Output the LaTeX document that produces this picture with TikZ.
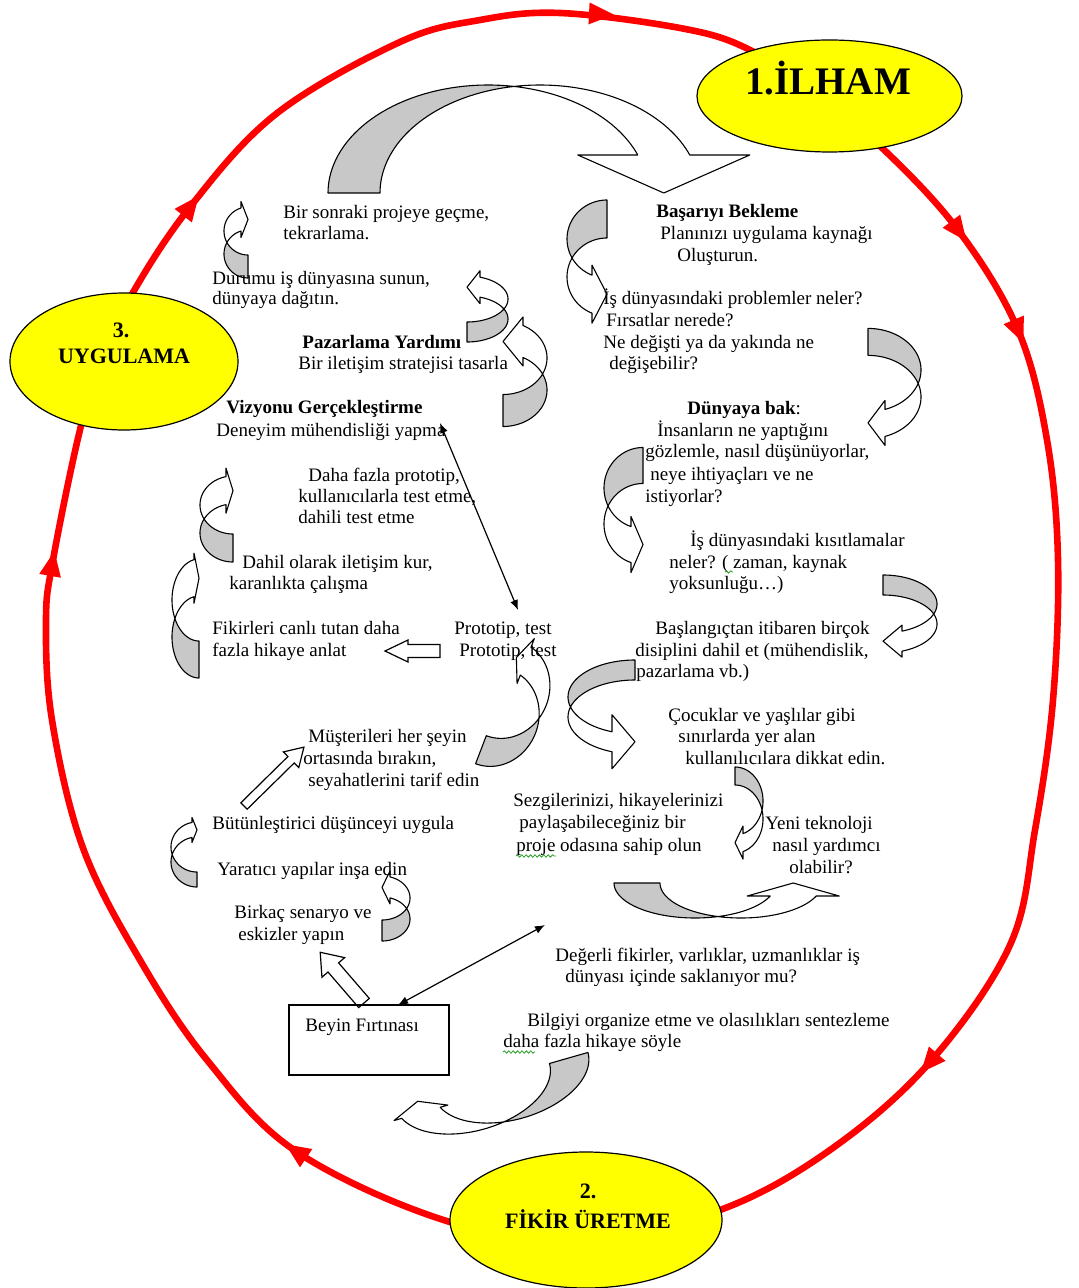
\documentclass[tikz,border=0pt]{standalone}
\usepackage{fontspec}
\setmainfont{Liberation Serif}
\usetikzlibrary{shapes.geometric, arrows.meta, decorations.pathmorphing}
\definecolor{ringred}{RGB}{255,0,0}
\definecolor{stageyellow}{RGB}{255,255,0}
\definecolor{ribbongray}{RGB}{200,200,200}
\definecolor{squiggle}{RGB}{40,160,40}

% curved ribbon arrow: #1 placement, #2 x radius, #3 y radius,
% #4 ribbon thickness, #5 height of the head base, #6 head overhang
\newcommand{\ribbonarrow}[6]{%
  \begin{scope}[#1]
    \pgfmathsetmacro{\rbrx}{#2}%
    \pgfmathsetmacro{\rbry}{#3}%
    \pgfmathsetmacro{\rbth}{#4}%
    \pgfmathsetmacro{\rbyb}{#5}%
    \pgfmathsetmacro{\rbhd}{#6}%
    \pgfmathsetmacro{\rbphi}{acos(\rbth/(2*\rbrx))}%
    \pgfmathsetmacro{\rbphb}{180-\rbphi}%
    \pgfmathsetmacro{\rbpsi}{asin(\rbyb/\rbry)}%
    \pgfmathsetmacro{\rbbx}{\rbrx*cos(\rbpsi)}%
    \filldraw[back] plot[variable=\t, domain=180:\rbphi, samples=40] ({\rbrx*cos(\t)},{\rbry*sin(\t)})
      -- plot[variable=\t, domain=\rbphb:180, samples=40] ({\rbth+\rbrx*cos(\t)},{\rbry*sin(\t)}) -- cycle;
    \filldraw[front] plot[variable=\t, domain=\rbphb:\rbpsi, samples=40] ({\rbth+\rbrx*cos(\t)},{\rbry*sin(\t)})
      -- ({\rbth+\rbbx+\rbhd},{\rbyb}) -- ({\rbbx+\rbth/2},0) -- ({\rbbx-\rbhd},{\rbyb})
      -- plot[variable=\t, domain=\rbpsi:\rbphi, samples=40] ({\rbrx*cos(\t)},{\rbry*sin(\t)}) -- cycle;
  \end{scope}}

% straight hollow arrow: #1 tail, #2 direction, #3 length, #4 head length,
% #5 half shaft width, #6 half head width
\newcommand{\hollowarrow}[6]{%
  \begin{scope}[shift={#1}, rotate=#2]
    \draw[hollow] (0,-#5) -- ({#3-#4},-#5) -- ({#3-#4},-#6) -- (#3,0)
      -- ({#3-#4},#6) -- ({#3-#4},#5) -- (0,#5) -- cycle;
  \end{scope}}

% red arrow head on the ring
\newcommand{\ringhead}[3]{%
  \fill[ringred, shift={(#1,-#2)}, rotate=#3] (14,0) -- (-11,11) -- (-11,-11) -- cycle;}

\begin{document}
\begin{tikzpicture}[x=0.5pt, y=0.5pt,
  ring/.style={draw=ringred, line width=3.3pt, line join=round},
  stage/.style={ellipse, draw=black, line width=0.6pt, fill=stageyellow, inner sep=0pt},
  txt/.style={font=\fontsize{9.5}{11}\selectfont, inner sep=0pt, anchor=base west},
  ttl/.style={font=\bfseries\fontsize{11}{13}\selectfont, inner sep=0pt, anchor=base},
  back/.style={draw=black, line width=0.55pt, fill=ribbongray, line join=round},
  front/.style={draw=black, line width=0.55pt, fill=white, line join=round},
  hollow/.style={draw=black, line width=0.6pt, fill=white},
  link/.style={draw=black, line width=0.6pt, {Latex[length=5pt,width=4pt]}-{Latex[length=5pt,width=4pt]}},
  box/.style={rectangle, draw=black, line width=0.75pt, inner sep=0pt},
  wavy/.style={draw=squiggle, line width=0.4pt, decorate, decoration={snake, amplitude=0.6pt, segment length=2.2pt}}]

\useasboundingbox[fill=white] (0,0) rectangle (1078,-1288);

% the red cycle
\draw[ring] plot[smooth cycle, tension=0.6] coordinates {
  (560,-13) (680,-28) (746,-48) (810,-90) (880,-146) (958,-230) (1018,-330)
  (1047,-440) (1058,-560) (1053,-700) (1035,-830) (1010,-945) (930,-1062)
  (830,-1150) (720,-1210) (586,-1240) (450,-1222) (297,-1152) (207,-1060)
  (140,-960) (83,-848) (52,-720) (46,-620) (53,-560) (79,-434) (100,-365)
  (131,-296) (190,-207) (276,-114) (400,-42) (480,-20)};
\ringhead{600}{14}{-3}
\ringhead{958}{230}{-53}
\ringhead{1018}{330}{-67}
\ringhead{930}{1062}{-131}
\ringhead{297}{1152}{146}
\ringhead{52}{565}{80}
\ringhead{190}{207}{52}

% the three stages
\node[stage, minimum width=132.5pt, minimum height=56pt] (ilham) at (829.5,-96) {};
\node[font=\bfseries\fontsize{19.5}{22}\selectfont, inner sep=0pt, anchor=base] (ilhamt) at (828,-95) {1.İLHAM};
\node[stage, minimum width=114pt, minimum height=68.5pt] (uygulama) at (124,-361.5) {};
\node[ttl] (uygt1) at (121,-338) {3.};
\node[ttl] (uygt2) at (124,-364) {UYGULAMA};
\node[stage, minimum width=136pt, minimum height=68pt] (fikir) at (586,-1220) {};
\node[ttl] (fikt1) at (588,-1198) {2.};
\node[ttl] (fikt2) at (588,-1228) {FİKİR ÜRETME};

% ribbon arrows
\ribbonarrow{shift={(488,-193)}}{160}{108}{52}{38}{60}
\ribbonarrow{shift={(607,-239)}, xscale=-1, rotate=-90}{39}{40}{38}{15}{10}
\ribbonarrow{shift={(868,-370)}, rotate=-90}{41.6}{53}{27}{17}{9}
\ribbonarrow{shift={(643,-488)}, xscale=-1, rotate=-90}{40.5}{39}{36}{12}{10}
\ribbonarrow{shift={(883,-604)}, rotate=-90}{29}{54}{20}{19}{6}
\ribbonarrow{shift={(635,-697)}, xscale=-1, rotate=-90}{37}{67}{20}{23}{17}
\ribbonarrow{shift={(735,-801)}, rotate=-90}{34}{28}{18}{8}{7.5}
\ribbonarrow{shift={(695,-883)}, yscale=-1}{81}{35}{46}{13}{23}
\ribbonarrow{shift={(511,-1074.5)}, rotate=196}{80}{45}{40}{12}{8}
\ribbonarrow{shift={(248,-254)}, rotate=90}{24}{24}{23}{7}{6.5}
\ribbonarrow{shift={(233,-533)}, rotate=90}{29}{33}{28}{7}{8.5}
\ribbonarrow{shift={(199,-637)}, rotate=90}{41}{27}{37}{5}{6.5}
\ribbonarrow{shift={(197,-862)}, rotate=90}{25}{26}{15}{5}{5}
\ribbonarrow{shift={(382,-919)}, xscale=-1, rotate=90}{22}{28}{21}{8}{6}
\ribbonarrow{shift={(493.5,-717)}, rotate=-21, xscale=-1, rotate=90}{50}{45}{30}{10}{9}
\ribbonarrow{shift={(467,-319)}, xscale=-1, rotate=90}{23}{41}{20}{13}{6.5}
\ribbonarrow{shift={(503,-390)}, xscale=-1, rotate=90}{36.5}{44}{32}{20}{8.5}

% hollow straight arrows
\hollowarrow{(440,-651)}{180}{55}{23}{6.5}{11}
\hollowarrow{(244,-806)}{44.5}{84}{18}{4.5}{11}
\hollowarrow{(364,-1003)}{130.8}{67}{20}{7}{15}

% brainstorming box
\node[box, minimum width=80pt, minimum height=35pt] (beyin) at (369,-1040) {};
\node[txt] (beyint) at (305,-1031) {Beyin Fırtınası};

% thin double-headed links
\coordinate (vizyon) at (440,-423);
\coordinate (prototip) at (518,-610);
\draw[link] (vizyon) -- (prototip);
\coordinate (degerli) at (545,-925);
\coordinate (beyintop) at (398,-1005);
\draw[link] (degerli) -- (beyintop);

% texts
\node[txt] (a1) at (283,-219) {Bir sonraki projeye geçme,};
\node[txt] (a2) at (283,-240) {tekrarlama.};
\node[txt] (b1) at (212,-285) {Durumu iş dünyasına sunun,};
\node[txt] (b2) at (212,-305) {dünyaya dağıtın.};
\node[txt] (c1) at (302,-349) {\textbf{Pazarlama Yardımı}};
\node[txt] (c2) at (298,-370) {Bir iletişim stratejisi tasarla};
\node[txt] (d1) at (226,-414) {\textbf{Vizyonu Gerçekleştirme}};
\node[txt] (d2) at (216,-437) {Deneyim mühendisliği yapma};
\node[txt] (e1) at (308,-481) {Daha fazla prototip,};
\node[txt] (e2) at (298,-502) {kullanıcılarla test etme,};
\node[txt] (e3) at (298,-523) {dahili test etme};
\node[txt] (f1) at (242,-568) {Dahil olarak iletişim kur,};
\node[txt] (f2) at (229,-589) {karanlıkta çalışma};
\node[txt] (g1) at (212,-634) {Fikirleri canlı tutan daha};
\node[txt] (g2) at (212,-656) {fazla hikaye anlat};
\node[txt] (h1) at (454,-634) {Prototip, test};
\node[txt] (h2) at (459,-656) {Prototip, test};
\node[txt] (i1) at (308,-742) {Müşterileri her şeyin};
\node[txt] (i2) at (303,-764) {ortasında bırakın,};
\node[txt] (i3) at (308,-786) {seyahatlerini tarif edin};
\node[txt] (j1) at (212,-829) {Bütünleştirici düşünceyi uygula};
\node[txt] (k1) at (217,-875) {Yaratıcı yapılar inşa edin};
\node[txt] (l1) at (234,-918) {Birkaç senaryo ve};
\node[txt] (l2) at (238,-940) {eskizler yapın};
\node[txt] (n1) at (555,-961) {Değerli fikirler, varlıklar, uzmanlıklar iş};
\node[txt] (n2) at (565,-982) {dünyası içinde saklanıyor mu?};
\node[txt] (o1) at (527,-1026) {Bilgiyi organize etme ve olasılıkları sentezleme};
\node[txt] (o2) at (503,-1047) {daha fazla hikaye söyle};
\node[txt] (p1) at (513,-806) {Sezgilerinizi, hikayelerinizi};
\node[txt] (p2) at (519,-828) {paylaşabileceğiniz bir};
\node[txt] (p3) at (516,-851) {proje odasına sahip olun};
\node[txt] (q1) at (765,-829) {Yeni teknoloji};
\node[txt] (q2) at (772,-851) {nasıl yardımcı};
\node[txt] (q3) at (789,-873) {olabilir?};
\node[txt] (r1) at (668,-721) {Çocuklar ve yaşlılar gibi};
\node[txt] (r2) at (678,-742) {sınırlarda yer alan};
\node[txt] (r3) at (685,-764) {kullanılıcılara dikkat edin.};
\node[txt] (s1) at (655,-634) {Başlangıçtan itibaren birçok};
\node[txt] (s2) at (635,-656) {disiplini dahil et (mühendislik,};
\node[txt] (s3) at (636,-677) {pazarlama vb.)};
\node[txt] (u1) at (690,-546) {İş dünyasındaki kısıtlamalar};
\node[txt] (u2) at (669,-568) {neler? ( zaman, kaynak};
\node[txt] (u3) at (669,-589) {yoksunluğu…)};
\node[txt] (w1) at (687,-415) {\textbf{Dünyaya bak}:};
\node[txt] (w2) at (657,-437) {İnsanların ne yaptığını};
\node[txt] (w3) at (645,-458) {gözlemle, nasıl düşünüyorlar,};
\node[txt] (w4) at (650,-480) {neye ihtiyaçları ve ne};
\node[txt] (w5) at (645,-502) {istiyorlar?};
\node[txt] (v1) at (656,-218) {\textbf{Başarıyı Bekleme}};
\node[txt] (v2) at (660,-240) {Planınızı uygulama kaynağı};
\node[txt] (v3) at (677,-262) {Oluşturun.};
\node[txt] (x1) at (603,-305) {İş dünyasındaki problemler neler?};
\node[txt] (x2) at (606,-327) {Fırsatlar nerede?};
\node[txt] (x3) at (603,-349) {Ne değişti ya da yakında ne};
\node[txt] (x4) at (609,-370) {değişebilir?};

% proofing marks under words
\draw[wavy] (503,-1052) -- (535,-1052);
\draw[wavy] (516,-856) -- (556,-856);
\draw[wavy] (725,-572) -- (733,-572);

\end{tikzpicture}
\end{document}
